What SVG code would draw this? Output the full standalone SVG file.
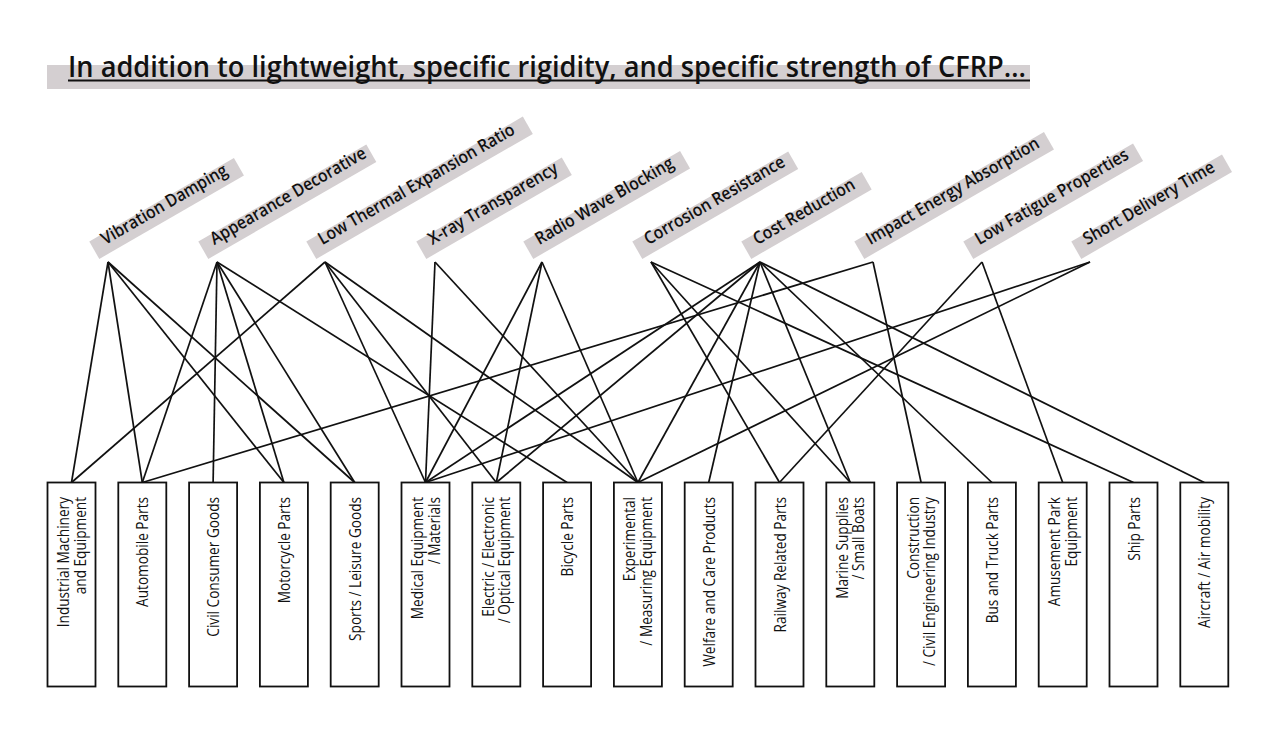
<svg xmlns="http://www.w3.org/2000/svg" width="1280" height="729" viewBox="0 0 1280 729">
<style>
.bar{fill:#d4cfd1}
.ttl{font-family:"Open Sans","Liberation Sans",sans-serif;font-size:28px;font-weight:600;fill:#111}
.lbl{font-family:"Open Sans","Liberation Sans",sans-serif;font-size:17.5px;font-weight:600;fill:#111}
.box{fill:#fff;stroke:#111;stroke-width:1.8}
.bt{font-family:"Open Sans","Liberation Sans",sans-serif;font-size:15.5px;font-weight:500;fill:#111;text-anchor:end}
#connectors line{stroke:#111;stroke-width:1.7}
</style>
<rect width="1280" height="729" fill="#fff"/>
<g id="title">
<rect class="bar" x="47" y="65" width="983" height="24"/>
<text class="ttl" x="68" y="77" textLength="958" lengthAdjust="spacingAndGlyphs">In addition to lightweight, specific rigidity, and specific strength of CFRP…</text>
<line x1="68" y1="80.5" x2="1030" y2="80.5" stroke="#111" stroke-width="2"/>
</g>
<g id="connectors">
<line x1="108" y1="262" x2="71.5" y2="482.5"/>
<line x1="108" y1="262" x2="142.3" y2="482.5"/>
<line x1="108" y1="262" x2="283.9" y2="482.5"/>
<line x1="108" y1="262" x2="354.7" y2="482.5"/>
<line x1="217" y1="262" x2="142.3" y2="482.5"/>
<line x1="217" y1="262" x2="213.1" y2="482.5"/>
<line x1="217" y1="262" x2="283.9" y2="482.5"/>
<line x1="217" y1="262" x2="354.7" y2="482.5"/>
<line x1="217" y1="262" x2="567.1" y2="482.5"/>
<line x1="325" y1="262" x2="71.5" y2="482.5"/>
<line x1="325" y1="262" x2="425.5" y2="482.5"/>
<line x1="325" y1="262" x2="496.3" y2="482.5"/>
<line x1="325" y1="262" x2="637.9" y2="482.5"/>
<line x1="435" y1="262" x2="425.5" y2="482.5"/>
<line x1="435" y1="262" x2="637.9" y2="482.5"/>
<line x1="542" y1="262" x2="425.5" y2="482.5"/>
<line x1="542" y1="262" x2="496.3" y2="482.5"/>
<line x1="542" y1="262" x2="637.9" y2="482.5"/>
<line x1="651" y1="262" x2="779.5" y2="482.5"/>
<line x1="651" y1="262" x2="850.3" y2="482.5"/>
<line x1="651" y1="262" x2="1133.5" y2="482.5"/>
<line x1="760" y1="262" x2="425.5" y2="482.5"/>
<line x1="760" y1="262" x2="496.3" y2="482.5"/>
<line x1="760" y1="262" x2="637.9" y2="482.5"/>
<line x1="760" y1="262" x2="708.7" y2="482.5"/>
<line x1="760" y1="262" x2="850.3" y2="482.5"/>
<line x1="760" y1="262" x2="991.9" y2="482.5"/>
<line x1="760" y1="262" x2="1204.3" y2="482.5"/>
<line x1="873" y1="262" x2="142.3" y2="482.5"/>
<line x1="873" y1="262" x2="921.1" y2="482.5"/>
<line x1="982" y1="262" x2="779.5" y2="482.5"/>
<line x1="982" y1="262" x2="1062.7" y2="482.5"/>
<line x1="1090" y1="262" x2="425.5" y2="482.5"/>
<line x1="1090" y1="262" x2="637.9" y2="482.5"/>
</g>
<g id="p-vibration" transform="translate(108,262) rotate(-30)"><rect class="bar" x="-6" y="-27" width="167" height="20"/><text class="lbl" transform="translate(6,-16) scale(0.9,1)">Vibration Damping</text></g>
<g id="p-appearance" transform="translate(217,262) rotate(-30)"><rect class="bar" x="-6" y="-27" width="194" height="20"/><text class="lbl" transform="translate(6,-16) scale(0.9,1)">Appearance Decorative</text></g>
<g id="p-thermal" transform="translate(325,262) rotate(-30)"><rect class="bar" x="-6" y="-27" width="250" height="20"/><text class="lbl" transform="translate(6,-16) scale(0.9,1)">Low Thermal Expansion Ratio</text></g>
<g id="p-xray" transform="translate(435,262) rotate(-30)"><rect class="bar" x="-6" y="-27" width="168" height="20"/><text class="lbl" transform="translate(6,-16) scale(0.9,1)">X-ray Transparency</text></g>
<g id="p-radio" transform="translate(542,262) rotate(-30)"><rect class="bar" x="-6" y="-27" width="181" height="20"/><text class="lbl" transform="translate(6,-16) scale(0.9,1)">Radio Wave Blocking</text></g>
<g id="p-corrosion" transform="translate(651,262) rotate(-30)"><rect class="bar" x="-6" y="-27" width="180" height="20"/><text class="lbl" transform="translate(6,-16) scale(0.9,1)">Corrosion Resistance</text></g>
<g id="p-cost" transform="translate(760,262) rotate(-30)"><rect class="bar" x="-6" y="-27" width="139" height="20"/><text class="lbl" transform="translate(6,-16) scale(0.9,1)">Cost Reduction</text></g>
<g id="p-impact" transform="translate(873,262) rotate(-30)"><rect class="bar" x="-6" y="-27" width="219" height="20"/><text class="lbl" transform="translate(6,-16) scale(0.9,1)">Impact Energy Absorption</text></g>
<g id="p-fatigue" transform="translate(982,262) rotate(-30)"><rect class="bar" x="-6" y="-27" width="196" height="20"/><text class="lbl" transform="translate(6,-16) scale(0.9,1)">Low Fatigue Properties</text></g>
<g id="p-delivery" transform="translate(1090,262) rotate(-30)"><rect class="bar" x="-6" y="-27" width="174" height="20"/><text class="lbl" transform="translate(6,-16) scale(0.9,1)">Short Delivery Time</text></g>
<g id="b-industrial"><rect class="box" x="47.5" y="482.5" width="48" height="204"/><text class="bt" transform="translate(69,497) rotate(-90) scale(0.88,1)"><tspan x="0" y="0">Industrial Machinery</tspan><tspan x="0" y="16.5">and Equipment</tspan></text></g>
<g id="b-automobile"><rect class="box" x="118.3" y="482.5" width="48" height="204"/><text class="bt" transform="translate(148.3,497) rotate(-90) scale(0.88,1)">Automobile Parts</text></g>
<g id="b-consumer"><rect class="box" x="189.1" y="482.5" width="48" height="204"/><text class="bt" transform="translate(219.1,497) rotate(-90) scale(0.88,1)">Civil Consumer Goods</text></g>
<g id="b-motorcycle"><rect class="box" x="259.9" y="482.5" width="48" height="204"/><text class="bt" transform="translate(289.9,497) rotate(-90) scale(0.88,1)">Motorcycle Parts</text></g>
<g id="b-sports"><rect class="box" x="330.7" y="482.5" width="48" height="204"/><text class="bt" transform="translate(360.7,497) rotate(-90) scale(0.88,1)">Sports / Leisure Goods</text></g>
<g id="b-medical"><rect class="box" x="401.5" y="482.5" width="48" height="204"/><text class="bt" transform="translate(423,497) rotate(-90) scale(0.88,1)"><tspan x="0" y="0">Medical Equipment</tspan><tspan x="0" y="16.5">/ Materials</tspan></text></g>
<g id="b-electric"><rect class="box" x="472.3" y="482.5" width="48" height="204"/><text class="bt" transform="translate(493.8,497) rotate(-90) scale(0.88,1)"><tspan x="0" y="0">Electric / Electronic</tspan><tspan x="0" y="16.5">/ Optical Equipment</tspan></text></g>
<g id="b-bicycle"><rect class="box" x="543.1" y="482.5" width="48" height="204"/><text class="bt" transform="translate(573.1,497) rotate(-90) scale(0.88,1)">Bicycle Parts</text></g>
<g id="b-experimental"><rect class="box" x="613.9" y="482.5" width="48" height="204"/><text class="bt" transform="translate(635.4,497) rotate(-90) scale(0.88,1)"><tspan x="0" y="0">Experimental</tspan><tspan x="0" y="16.5">/ Measuring Equipment</tspan></text></g>
<g id="b-welfare"><rect class="box" x="684.7" y="482.5" width="48" height="204"/><text class="bt" transform="translate(714.7,497) rotate(-90) scale(0.88,1)">Welfare and Care Products</text></g>
<g id="b-railway"><rect class="box" x="755.5" y="482.5" width="48" height="204"/><text class="bt" transform="translate(785.5,497) rotate(-90) scale(0.88,1)">Railway Related Parts</text></g>
<g id="b-marine"><rect class="box" x="826.3" y="482.5" width="48" height="204"/><text class="bt" transform="translate(847.8,497) rotate(-90) scale(0.88,1)"><tspan x="0" y="0">Marine Supplies</tspan><tspan x="0" y="16.5">/ Small Boats</tspan></text></g>
<g id="b-construction"><rect class="box" x="897.1" y="482.5" width="48" height="204"/><text class="bt" transform="translate(918.6,497) rotate(-90) scale(0.88,1)"><tspan x="0" y="0">Construction</tspan><tspan x="0" y="16.5">/ Civil Engineering Industry</tspan></text></g>
<g id="b-bus"><rect class="box" x="967.9" y="482.5" width="48" height="204"/><text class="bt" transform="translate(997.9,497) rotate(-90) scale(0.88,1)">Bus and Truck Parts</text></g>
<g id="b-amusement"><rect class="box" x="1038.7" y="482.5" width="48" height="204"/><text class="bt" transform="translate(1060.2,497) rotate(-90) scale(0.88,1)"><tspan x="0" y="0">Amusement Park</tspan><tspan x="0" y="16.5">Equipment</tspan></text></g>
<g id="b-ship"><rect class="box" x="1109.5" y="482.5" width="48" height="204"/><text class="bt" transform="translate(1139.5,497) rotate(-90) scale(0.88,1)">Ship Parts</text></g>
<g id="b-aircraft"><rect class="box" x="1180.3" y="482.5" width="48" height="204"/><text class="bt" transform="translate(1210.3,497) rotate(-90) scale(0.88,1)">Aircraft / Air mobility</text></g>
</svg>
